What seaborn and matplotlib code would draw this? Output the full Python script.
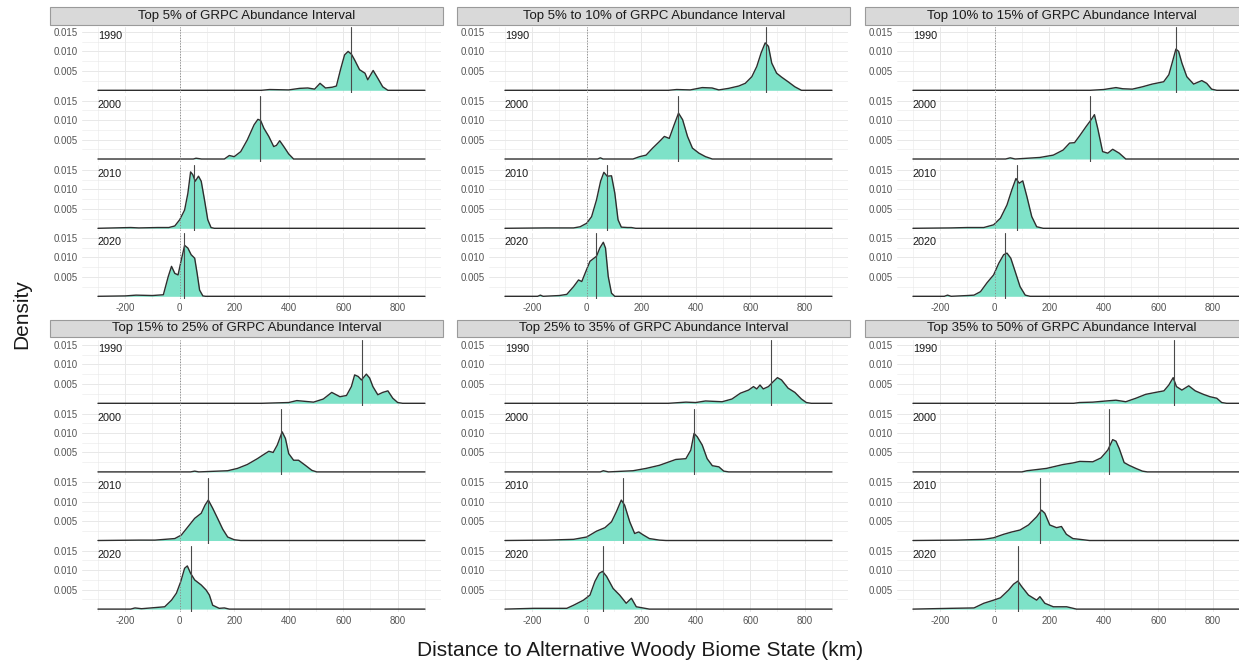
import matplotlib
matplotlib.use("Agg")
import matplotlib.pyplot as plt
from matplotlib.patches import Rectangle
import seaborn as sns
import pandas as pd

sns.set_theme(style="white")
plt.rcParams["font.family"] = ["Liberation Sans", "DejaVu Sans"]

# ---------------------------------------------------------------- data
years = [1990, 2000, 2010, 2020]
intervals = ["Top 5%", "Top 5% to 10%", "Top 10% to 15%",
             "Top 15% to 25%", "Top 25% to 35%", "Top 35% to 50%"]
x_ticks = [-200, 0, 200, 400, 600, 800]
y_ticks = [0.005, 0.010, 0.015]
y_tick_labels = ["0.005", "0.010", "0.015"]

# median distance (km) per year, one list per abundance interval
median_top05 = [628, 295, 51, 17]
median_top05_10 = [657, 336, 73, 34]
median_top10_15 = [665, 350, 82, 36]
median_top15_25 = [669, 370, 104, 40]
median_top25_35 = [675, 394, 133, 58]
median_top35_50 = [659, 421, 166, 87]

# density curves as (distance km, density)
top05_1990 = [(-300, 0), (300, 0), (330, .0002), (400, .0001), (440, .0005), (470, .0006), (495, .0003),
              (515, .0018), (535, .0006), (560, .0008), (575, .0011), (590, .0053), (605, .0091), (618, .0100),
              (630, .0093), (642, .0078), (660, .0053), (680, .0044), (690, .0027), (710, .0051), (727, .0031),
              (745, .0009), (764, 0), (900, 0)]
top05_2000 = [(-300, 0), (50, 0), (60, .0002), (80, 0), (164, 0), (182, .0009), (200, .0006), (224, .0019),
              (248, .0049), (273, .0088), (287, .0102), (297, .0099), (309, .0079), (327, .0058), (345, .0032),
              (355, .0035), (367, .0047), (382, .0032), (400, .0013), (418, 0), (900, 0)]
top05_2010 = [(-300, 0), (-180, .0002), (-150, .0001), (-80, .0002), (-40, .0002), (-18, .0006), (0, .0022),
              (18, .0047), (30, .0090), (40, .0145), (48, .0138), (57, .0121), (69, .0134), (79, .0121),
              (91, .0073), (103, .0022), (115, .0002), (127, 0), (900, 0)]
top05_2020 = [(-300, 0), (-200, .0001), (-160, .0003), (-100, .0002), (-60, .0004), (-50, .0030), (-42, .0051),
              (-30, .0077), (-18, .0059), (-6, .0055), (6, .0094), (18, .0131), (30, .0124), (42, .0107),
              (55, .0098), (64, .0059), (73, .0016), (85, .0001), (95, 0), (900, 0)]

top05_10_1990 = [(-300, 0), (300, 0), (330, .0002), (380, .0001), (424, .0007), (460, .0006), (485, .0001),
                 (521, .0005), (558, .0011), (582, .0018), (606, .0035), (624, .0061), (640, .0096),
                 (655, .0122), (667, .0113), (679, .0070), (697, .0044), (715, .0034), (739, .0022),
                 (764, .0009), (788, 0), (900, 0)]
top05_10_2000 = [(-300, 0), (40, 0), (50, .0003), (60, 0), (170, 0), (194, .0006), (218, .0010), (242, .0028),
                 (267, .0045), (285, .0058), (303, .0053), (321, .0088), (337, .0118), (352, .0101),
                 (370, .0058), (388, .0028), (412, .0015), (436, .0006), (461, 0), (900, 0)]
top05_10_2010 = [(-300, 0), (-150, .0001), (-100, .0001), (-48, .0001), (-24, .0004), (0, .0013), (18, .0030),
                 (36, .0073), (51, .0121), (63, .0144), (75, .0134), (91, .0135), (103, .0091), (115, .0022),
                 (127, .0003), (150, .0002), (164, .0002), (180, 0), (900, 0)]
top05_10_2020 = [(-300, 0), (-180, 0), (-170, .0003), (-160, 0), (-100, .0002), (-73, .0005), (-48, .0025),
                 (-30, .0042), (-18, .0038), (-6, .0059), (12, .0090), (36, .0103), (48, .0124), (61, .0139),
                 (69, .0124), (79, .0051), (91, .0008), (103, 0), (900, 0)]

top10_15_1990 = [(-300, 0), (350, 0), (400, .0002), (445, .0007), (470, .0004), (505, .0003), (542, .0009),
                 (578, .0016), (620, .0022), (639, .0040), (651, .0070), (665, .0106), (675, .0100),
                 (687, .0070), (705, .0035), (730, .0016), (760, .0025), (778, .0018), (796, .0003),
                 (815, 0), (900, 0)]
top10_15_2000 = [(-300, 0), (40, 0), (57, .0003), (75, 0), (166, .0004), (215, .0010), (251, .0023),
                 (275, .0041), (293, .0042), (312, .0060), (336, .0084), (354, .0101), (366, .0114),
                 (378, .0079), (396, .0019), (415, .0015), (433, .0025), (457, .0015), (481, 0), (900, 0)]
top10_15_2010 = [(-300, 0), (-160, .0001), (-100, .0002), (-40, .0002), (-4, .0009), (21, .0026), (45, .0060),
                 (63, .0099), (78, .0128), (90, .0116), (103, .0122), (118, .0082), (136, .0030), (154, .0004),
                 (178, 0), (900, 0)]
top10_15_2020 = [(-300, 0), (-185, 0), (-173, .0003), (-160, 0), (-100, .0002), (-76, .0003), (-52, .0012),
                 (-28, .0035), (-4, .0055), (15, .0085), (33, .0107), (45, .0111), (59, .0098), (75, .0064),
                 (93, .0025), (112, .0003), (130, 0), (900, 0)]

top15_25_1990 = [(-300, 0), (300, 0), (400, .0002), (430, .0007), (460, .0005), (491, .0003), (527, .0011),
                 (558, .0028), (588, .0017), (612, .0020), (630, .0043), (642, .0073), (655, .0069),
                 (667, .0060), (685, .0075), (697, .0065), (709, .0043), (727, .0022), (745, .0028),
                 (764, .0032), (782, .0013), (800, .0002), (818, 0), (900, 0)]
top15_25_2000 = [(-300, 0), (40, 0), (55, .0002), (70, 0), (176, .0003), (212, .0009), (248, .0019),
                 (285, .0034), (309, .0045), (327, .0053), (343, .0050), (358, .0069), (376, .0103),
                 (388, .0086), (400, .0047), (418, .0030), (436, .0030), (461, .0017), (485, .0004),
                 (503, 0), (900, 0)]
top15_25_2010 = [(-300, 0), (-150, .0001), (-91, .0001), (-18, .0005), (6, .0014), (30, .0035), (55, .0057),
                 (79, .0070), (93, .0091), (105, .0104), (121, .0083), (139, .0057), (158, .0029),
                 (176, .0009), (200, .0002), (224, 0), (900, 0)]
top15_25_2020 = [(-300, 0), (-180, 0), (-164, .0003), (-140, .0001), (-55, .0006), (-30, .0023), (-12, .0041),
                 (4, .0071), (18, .0105), (28, .0111), (40, .0092), (55, .0075), (79, .0062), (97, .0049),
                 (109, .0036), (121, .0010), (145, .0002), (164, .0003), (182, 0), (900, 0)]

top25_35_1990 = [(-300, 0), (300, 0), (364, .0003), (400, .0002), (436, .0006), (497, .0004), (533, .0011),
                 (564, .0026), (594, .0034), (612, .0043), (624, .0037), (636, .0047), (648, .0037),
                 (667, .0043), (685, .0056), (700, .0066), (715, .0060), (739, .0039), (764, .0028),
                 (788, .0011), (806, .0002), (824, 0), (900, 0)]
top25_35_2000 = [(-300, 0), (50, 0), (61, .0003), (80, 0), (170, .0003), (218, .0009), (267, .0017),
                 (303, .0026), (327, .0032), (364, .0034), (382, .0056), (394, .0099), (406, .0090),
                 (424, .0069), (442, .0034), (461, .0016), (485, .0013), (503, .0002), (521, 0), (900, 0)]
top25_35_2010 = [(-300, 0), (-145, .0001), (-48, .0003), (0, .0009), (36, .0024), (67, .0033), (91, .0048),
                 (109, .0074), (127, .0104), (139, .0091), (158, .0048), (176, .0018), (191, .0022),
                 (206, .0015), (230, .0005), (267, .0001), (291, 0), (900, 0)]
top25_35_2020 = [(-300, 0), (-194, .0002), (-73, .0002), (-48, .0010), (-12, .0023), (12, .0036), (30, .0071),
                 (46, .0092), (58, .0097), (73, .0084), (97, .0053), (121, .0036), (145, .0015), (164, .0028),
                 (182, .0006), (206, .0003), (230, 0), (900, 0)]

top35_50_1990 = [(-300, 0), (290, 0), (311, .0002), (360, .0003), (409, .0006), (445, .0008), (481, .0004),
                 (518, .0013), (554, .0023), (590, .0028), (621, .0032), (639, .0047), (655, .0066),
                 (667, .0043), (687, .0034), (712, .0045), (736, .0032), (766, .0023), (790, .0017),
                 (815, .0013), (833, .0002), (851, 0), (900, 0)]
top35_50_2000 = [(-300, 0), (100, 0), (118, .0003), (190, .0009), (251, .0019), (287, .0023), (312, .0027),
                 (360, .0026), (390, .0036), (415, .0056), (433, .0083), (445, .0079), (457, .0060),
                 (475, .0024), (493, .0017), (518, .0009), (542, .0002), (560, 0), (900, 0)]
top35_50_2010 = [(-300, 0), (-137, .0001), (-40, .0003), (-4, .0007), (33, .0016), (63, .0022), (93, .0027),
                 (124, .0040), (154, .0061), (172, .0078), (184, .0070), (202, .0040), (227, .0033),
                 (245, .0036), (263, .0016), (287, .0005), (312, .0003), (348, 0), (900, 0)]
top35_50_2020 = [(-300, 0), (-161, .0002), (-76, .0003), (-40, .0015), (-4, .0023), (21, .0029), (51, .0049),
                 (69, .0064), (85, .0072), (99, .0058), (124, .0036), (154, .0023), (166, .0032), (184, .0015),
                 (215, .0006), (264, .0006), (300, 0), (900, 0)]

curves = {
    intervals[0]: [top05_1990, top05_2000, top05_2010, top05_2020],
    intervals[1]: [top05_10_1990, top05_10_2000, top05_10_2010, top05_10_2020],
    intervals[2]: [top10_15_1990, top10_15_2000, top10_15_2010, top10_15_2020],
    intervals[3]: [top15_25_1990, top15_25_2000, top15_25_2010, top15_25_2020],
    intervals[4]: [top25_35_1990, top25_35_2000, top25_35_2010, top25_35_2020],
    intervals[5]: [top35_50_1990, top35_50_2000, top35_50_2010, top35_50_2020],
}
medians = dict(zip(intervals, [median_top05, median_top05_10, median_top10_15,
                               median_top15_25, median_top25_35, median_top35_50]))

rows = []
for name in intervals:
    for yr, pts in zip(years, curves[name]):
        for km, d in pts:
            rows.append((name, yr, km, d))
df = pd.DataFrame(rows, columns=["interval", "year", "km", "density"])

# ---------------------------------------------------------------- layout (pixels)
W, H = 1239, 662
fig = plt.figure(figsize=(W / 100, H / 100), dpi=100)
fig.patch.set_facecolor("white")

XLIM = (-360, 960)
YLIM = (-0.00077, 0.0162)
panel_w = 359.7
panel_h = 66.0
col_left = [81.6, 488.6, 896.6]
row_base = [[90.3, 159.0, 228.3, 296.3], [403.3, 471.9, 540.5, 609.1]]
strip_y = [(7.0, 24.5), (319.5, 337.0)]

FILL = "#7EE2C8"
LINE = "#2E2E2E"
GRID = "#E8E8E8"
TICK = "#555555"


def px_axes(left, top, width, height):
    return fig.add_axes([left / W, 1 - (top + height) / H, width / W, height / H])


for i, name in enumerate(intervals):
    r, c = divmod(i, 3)
    left = col_left[c]

    # facet strip
    s0, s1 = strip_y[r]
    sx0 = left - 31.6
    sx1 = left + panel_w + 2.0
    fig.patches.append(Rectangle((sx0 / W, 1 - s1 / H), (sx1 - sx0) / W, (s1 - s0) / H,
                                 transform=fig.transFigure, facecolor="#D9D9D9",
                                 edgecolor="#9A9A9A", linewidth=0.8, zorder=5))
    fig.text((sx0 + sx1) / 2 / W, 1 - (s0 + s1) / 2 / H, f"{name} of GRPC Abundance Interval",
             ha="center", va="center", fontsize=9.5, color="#1A1A1A", zorder=6)

    for k, yr in enumerate(years):
        base = row_base[r][k]
        bottom = base + 3.0
        ax = px_axes(left, bottom - panel_h, panel_w, panel_h)
        ax.set_facecolor("white")
        for sp in ax.spines.values():
            sp.set_visible(False)

        sub = df[(df["interval"] == name) & (df["year"] == yr)]
        ax.fill_between(sub["km"], sub["density"], 0, color=FILL, linewidth=0, zorder=2)
        sns.lineplot(data=sub, x="km", y="density", ax=ax, color=LINE, linewidth=1.0,
                     estimator=None, sort=False, zorder=3)
        ax.axvline(0, color="#8C8C8C", linestyle=(0, (1.2, 1.6)), linewidth=0.7, zorder=4)
        ax.axvline(medians[name][k], color="#4A4A4A", linewidth=0.8, zorder=4)

        ax.set_xlim(*XLIM)
        ax.set_ylim(*YLIM)
        ax.set_xticks(x_ticks)
        ax.set_xticks([-300, -100, 100, 300, 500, 700, 900], minor=True)
        ax.set_yticks(y_ticks)
        ax.set_yticklabels(y_tick_labels)
        ax.set_yticks([0.0025, 0.0075, 0.0125], minor=True)
        ax.grid(True, which="major", color=GRID, linewidth=0.7, zorder=0)
        ax.grid(True, which="minor", color=GRID, linewidth=0.4, zorder=0)
        ax.set_axisbelow(True)
        ax.set_xlabel("")
        ax.set_ylabel("")
        ax.tick_params(axis="both", which="both", length=0, labelsize=7, labelcolor=TICK, pad=2.5)
        if k < 3:
            ax.tick_params(axis="x", labelbottom=False)
        else:
            ax.set_xticklabels([str(t) for t in x_ticks])

        ax.text(-300, 0.0139, str(yr), ha="left", va="center", fontsize=7.8, color="#1A1A1A", zorder=5)

fig.text(640 / W, 1 - 650 / H, "Distance to Alternative Woody Biome State (km)",
         ha="center", va="center", fontsize=15, color="#1A1A1A")
fig.text(22 / W, 1 - 314 / H, "Density", ha="center", va="center", rotation=90,
         fontsize=15, color="#1A1A1A")

fig.savefig("out.png", dpi=100, facecolor="white")
